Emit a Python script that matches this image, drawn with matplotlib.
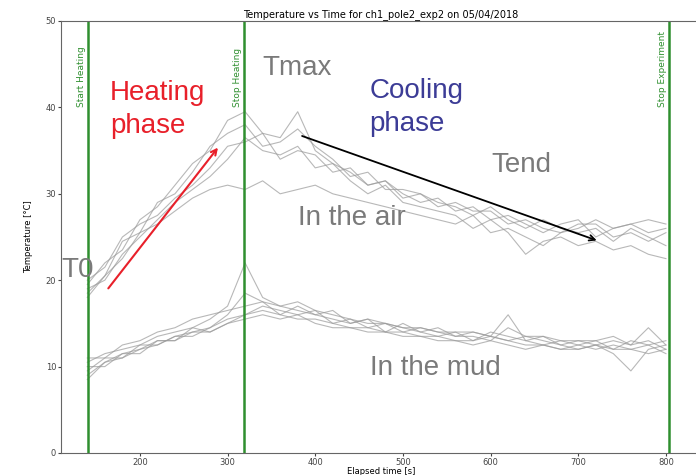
import matplotlib.pyplot as plt

# elapsed time samples [s]
time_s = [140, 160, 180, 200, 220, 240, 260, 280, 300, 320, 340, 360, 380, 400, 420, 440, 460,
          480, 500, 520, 540, 560, 580, 600, 620, 640, 660, 680, 700, 720, 740, 760, 780, 800]

# sensors in the air
air1 = [19.5, 22.0, 23.5, 27.0, 28.5, 31.0, 33.5, 35.0, 38.5, 39.5, 37.0, 36.5, 39.5, 35.0, 33.5, 32.5, 31.0,
        31.5, 30.0, 29.0, 29.5, 28.0, 28.5, 27.0, 27.5, 26.5, 25.5, 26.5, 27.0, 25.0, 26.0, 26.5, 25.5, 26.0]
air2 = [18.5, 20.5, 24.5, 25.5, 29.0, 30.0, 32.5, 35.5, 37.0, 38.0, 35.5, 36.0, 37.5, 35.5, 34.0, 32.0, 32.5,
        30.5, 30.5, 30.0, 28.5, 29.0, 28.0, 28.0, 26.5, 27.0, 26.0, 25.5, 26.5, 26.5, 25.0, 25.5, 24.5, 25.5]
air3 = [20.0, 21.5, 25.0, 26.5, 27.5, 29.5, 31.0, 33.0, 35.5, 36.0, 37.0, 34.0, 35.0, 34.5, 32.5, 33.0, 31.0,
        31.5, 29.5, 30.0, 29.0, 28.5, 27.5, 28.5, 27.0, 26.0, 27.0, 26.0, 25.5, 26.0, 24.5, 26.0, 25.0, 24.0]
air4 = [19.0, 20.0, 23.0, 25.0, 27.0, 29.0, 30.5, 32.0, 34.0, 36.5, 35.0, 34.5, 35.5, 33.0, 33.5, 31.5, 30.0,
        31.0, 29.0, 28.5, 28.0, 27.5, 26.0, 27.0, 25.5, 23.0, 24.5, 25.0, 24.0, 24.5, 23.5, 24.0, 23.0, 22.5]
air5 = [18.0, 20.5, 22.5, 25.5, 26.5, 28.0, 29.5, 30.5, 31.0, 30.5, 31.5, 30.0, 30.5, 31.0, 30.0, 29.5, 29.0,
        28.5, 28.0, 27.5, 27.0, 26.5, 27.5, 25.5, 26.0, 25.0, 24.0, 25.5, 26.0, 27.0, 26.0, 26.5, 27.0, 26.5]

# sensors in the mud
mud1 = [10.5, 11.5, 12.0, 12.5, 13.5, 14.0, 14.5, 15.5, 17.0, 22.0, 18.0, 17.0, 17.5, 16.5, 16.0, 15.5, 15.0,
        15.0, 14.5, 14.0, 14.5, 13.5, 14.0, 13.5, 16.0, 13.0, 13.5, 12.5, 13.0, 12.5, 13.0, 12.5, 13.0, 12.0]
mud2 = [9.0, 10.5, 11.0, 12.5, 12.5, 13.5, 14.0, 14.5, 16.0, 18.5, 17.5, 16.0, 17.0, 16.0, 15.5, 15.0, 15.5,
        14.0, 15.0, 14.0, 13.5, 14.0, 13.0, 14.0, 13.5, 13.0, 12.5, 13.0, 12.5, 13.0, 12.0, 13.0, 12.5, 13.0]
mud3 = [10.0, 10.0, 11.5, 11.5, 13.0, 13.0, 14.0, 14.0, 15.0, 16.0, 17.0, 16.5, 16.0, 16.5, 15.0, 15.5, 14.5,
        15.0, 14.0, 14.5, 14.0, 13.5, 13.5, 13.0, 14.5, 13.5, 13.0, 12.5, 12.0, 12.5, 11.5, 9.5, 12.0, 12.5]
mud4 = [8.5, 10.5, 11.5, 12.0, 12.5, 13.5, 13.5, 14.5, 15.5, 16.0, 16.5, 16.0, 15.5, 15.5, 15.0, 14.5, 14.5,
        14.0, 14.0, 13.5, 13.5, 13.0, 13.0, 13.5, 13.0, 12.5, 12.5, 12.0, 12.5, 12.0, 12.5, 12.0, 11.5, 12.0]
mud5 = [11.0, 11.0, 12.5, 13.0, 14.0, 14.5, 15.5, 16.0, 16.5, 17.0, 17.5, 17.0, 16.5, 16.0, 16.5, 15.0, 15.5,
        15.0, 14.5, 14.5, 14.0, 14.0, 14.0, 13.5, 13.0, 13.5, 13.5, 13.0, 13.0, 13.0, 13.5, 12.5, 14.5, 12.5]
mud6 = [9.5, 11.0, 11.0, 12.0, 13.0, 13.0, 14.5, 14.0, 15.0, 15.5, 16.0, 15.5, 16.0, 15.0, 14.5, 14.5, 14.0,
        14.0, 13.5, 13.5, 13.0, 13.0, 12.5, 13.0, 12.5, 12.0, 12.5, 12.0, 12.0, 12.5, 12.0, 12.0, 12.5, 11.5]

events = [141, 319, 804]
event_labels = ["Start Heating", "Stop Heating", "Stop Experiment"]

fig = plt.figure(figsize=(6.96, 4.75), dpi=100)
ax = fig.add_axes([61 / 696, 22 / 475, 640 / 696, 432 / 475])

for serie in [air1, air2, air3, air4, air5, mud1, mud2, mud3, mud4, mud5, mud6]:
    ax.plot(time_s, serie, color="#9a9a9a", lw=0.8, alpha=0.7)

for xv, lab in zip(events, event_labels):
    ax.axvline(xv, color="#2f8f2f", lw=1.8)
    ax.text(xv - 3, 40, lab, rotation=90, color="#2f8f2f", fontsize=6.5,
            ha="right", va="bottom", family="Liberation Sans Narrow")

ax.set_xlim(110, 840)
ax.set_ylim(0, 50)
ax.set_xticks([200, 300, 400, 500, 600, 700, 800])
ax.set_yticks([0, 10, 20, 30, 40, 50])
ax.tick_params(labelsize=6, colors="#444444", length=2, pad=1.5)
for s in ax.spines.values():
    s.set_color("#666666")
ax.set_title("Temperature vs Time for ch1_pole2_exp2 on 05/04/2018", fontsize=7, pad=3)
ax.set_xlabel("Elapsed time [s]", fontsize=6, labelpad=0)
ax.set_ylabel("Temperature [\u00b0C]", fontsize=6, labelpad=9)

# annotations drawn on the figure
f = "Liberation Sans"
ax.text(166, 39.7, "Heating\nphase", color="#e8202a", fontsize=20, family=f,
        va="center", linespacing=1.35)
ax.text(462, 40, "Cooling\nphase", color="#3c3c96", fontsize=20, family=f,
        va="center", linespacing=1.35)
ax.text(340, 44.6, "Tmax", color="#7a7a7a", fontsize=20, family=f, va="center")
ax.text(601, 33.3, "Tend", color="#7a7a7a", fontsize=20, family=f, va="center")
ax.text(380, 27.2, "In the air", color="#7a7a7a", fontsize=20, family=f, va="center")
ax.text(462, 9.8, "In the mud", color="#7a7a7a", fontsize=20, family=f, va="center")
ax.text(110, 21.2, "T0", color="#7a7a7a", fontsize=20, family=f, va="center")

ax.annotate("", xy=(291, 35.6), xytext=(162, 18.8),
            arrowprops=dict(arrowstyle="->", color="#e8202a", lw=1.5))
ax.annotate("", xy=(724, 24.5), xytext=(382, 36.8),
            arrowprops=dict(arrowstyle="->", color="black", lw=1.3))

fig.savefig("out.png", dpi=100)
